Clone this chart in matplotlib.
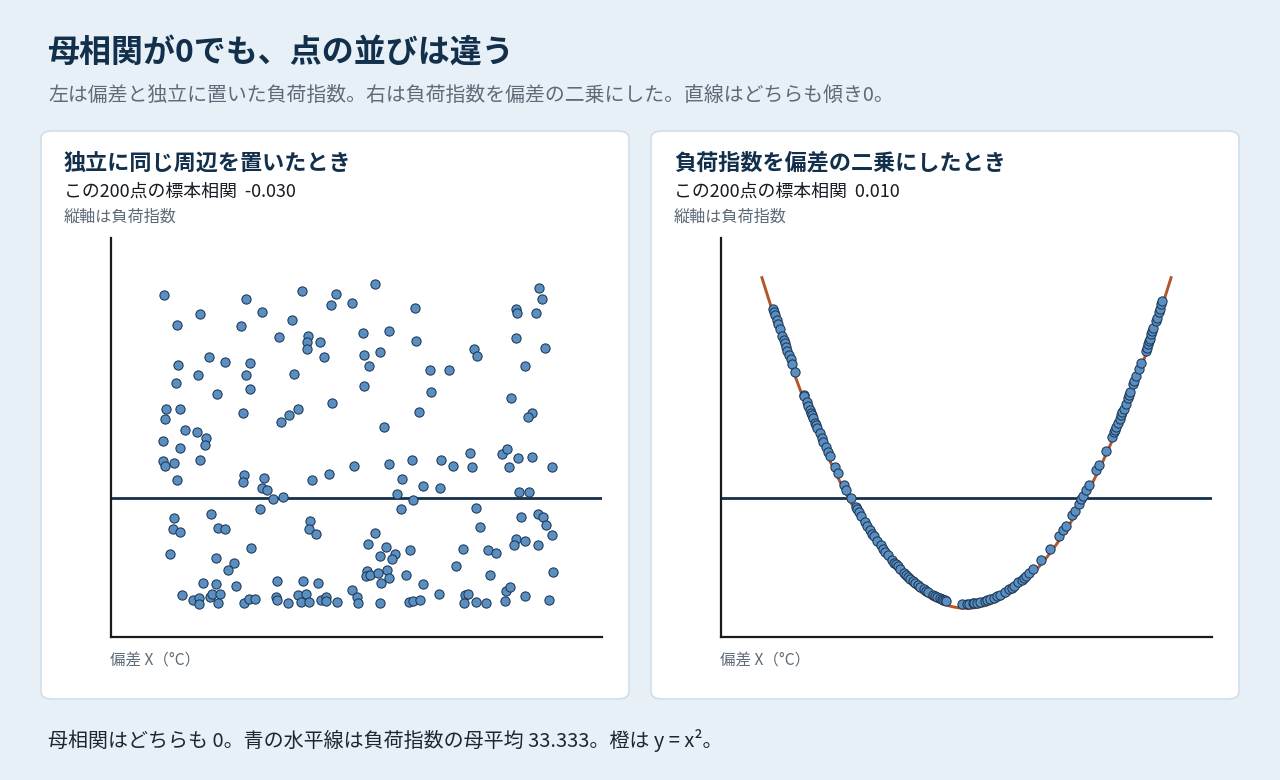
import matplotlib
matplotlib.use("Agg")
import matplotlib.pyplot as plt
from matplotlib.patches import FancyBboxPatch
from matplotlib import transforms

plt.rcParams['font.family'] = ['Noto Sans CJK JP', 'DejaVu Sans']

W, H = 1280, 780

# left panel: load index placed independently of the deviation
left_x = [-9.40, -5.41, -2.68, -1.02, -1.27, -0.24, -7.65, -4.63, -8.77, -5.65,
          -3.17, -3.80, -2.39, -2.44, -2.44, -1.80, -1.57, -7.21, -6.43, -5.21,
          -8.72, -7.74, -5.41, -3.07, -8.82, -5.21, -6.82, -1.22, -9.30, -8.65,
          -9.35, -5.55, -2.87, -3.31, -3.70, -8.38, -7.79, -7.36, -7.40, -9.45,
          -8.65, -9.45, -9.35, -8.91, -7.65, -0.10,
          0.88, 2.87, 8.91, 9.06, 7.79, 7.86, 8.77, 0.34, 1.61, 2.92,
          7.79, 9.21, 0.39, 1.17, 5.75, 5.89, 0.60, 3.60, 4.53, 8.23,
          0.39, 3.65, 7.55, 3.07, 8.57, 8.38, 1.32, 1.61, 2.73, 4.14,
          4.72, 5.55, 5.65, 7.11, 7.36, 7.89, 8.57, 7.45, 9.55,
          -5.50, -5.55, -4.53, -8.77, -2.19, -1.32, -4.63, -4.38, -4.09, -3.60,
          -4.72, -7.11, -8.91, -8.96, -8.65, -6.77, -6.43, -2.29, -2.34, -2.00,
          -9.11, -5.16, -6.87, -5.99, -6.28, -7.50, -6.87, -5.89, -3.90, -2.63,
          -1.90, -8.52, -7.99, -7.70, -7.70, -7.16, -7.06, -6.67, -6.77, -5.50,
          -5.26, -4.97, -3.95, -3.90, -3.36, -2.87, -2.48, -2.73, -2.34, -1.75,
          -1.51, -1.51, -0.93, -0.24, 0.00, 0.05,
          2.24, 3.26, 4.09, 2.00, 2.78, 2.19, 7.94, 8.43, 5.85, 8.04,
          8.87, 9.11, 9.25, 9.55, 6.04, 0.88, 0.54, 1.46, 1.17, 1.90,
          1.75, 2.63, 5.21, 6.43, 6.82, 7.79, 7.70, 8.23, 8.87, 4.87,
          0.49, 0.44, 0.68, 1.07, 1.51, 1.61, 1.22, 2.44, 3.26, 6.53,
          9.60, 1.17, 2.58, 2.78, 3.12, 4.04, 5.31, 5.46, 5.26, 5.85,
          6.33, 7.26, 7.31, 7.50, 8.23, 9.40]
left_y = [94.7, 93.5, 95.9, 95.0, 91.7, 92.3, 88.9, 89.5, 85.6, 85.3,
          87.1, 82.0, 82.4, 80.5, 78.3, 80.5, 75.9, 75.9, 74.5, 74.1,
          73.5, 70.5, 70.5, 70.8, 68.1, 66.3, 64.7, 62.0, 60.2, 60.2,
          57.2, 59.0, 60.3, 58.4, 56.3, 53.8, 53.2, 51.5, 49.3, 50.5,
          48.4, 44.6, 43.0, 43.9, 44.8, 43.0,
          98.0, 90.7, 96.8, 93.5, 90.5, 89.4, 89.2, 83.2, 83.8, 80.8,
          81.7, 78.6, 76.5, 77.4, 78.3, 76.2, 73.2, 72.0, 72.0, 73.2,
          67.2, 65.3, 63.5, 59.3, 59.0, 57.8, 54.7, 43.6, 44.8, 44.8,
          43.0, 47.0, 42.6, 46.7, 48.1, 45.4, 45.7, 42.6, 42.6,
          40.2, 38.1, 39.3, 38.7, 38.7, 40.5, 36.3, 35.7, 33.0, 33.6,
          29.9, 28.4, 27.2, 23.9, 23.0, 24.2, 23.9, 26.3, 23.9, 22.4,
          16.3, 18.1, 15.1, 13.6, 11.5, 7.6, 7.3, 6.7, 8.2, 8.2,
          7.6, 3.9, 2.4, 3.0, 1.2, 3.3, 4.2, 4.2, 1.5, 1.5,
          2.7, 2.7, 3.5, 2.4, 1.5, 3.9, 4.2, 1.8, 1.8, 2.4,
          3.3, 2.1, 1.8, 5.4, 3.3, 1.5,
          39.0, 37.0, 36.3, 34.5, 32.7, 29.9, 35.1, 35.1, 30.2, 27.5,
          28.4, 27.5, 25.1, 22.1, 24.5, 22.7, 19.4, 18.5, 15.7, 16.3,
          14.8, 17.5, 17.8, 17.5, 16.6, 20.9, 19.1, 20.3, 19.1, 12.7,
          11.2, 9.7, 10.0, 10.6, 11.5, 9.1, 7.6, 10.0, 7.3, 10.0,
          10.9, 1.5, 1.8, 2.1, 2.4, 4.2, 3.9, 4.2, 1.5, 1.8,
          1.5, 2.1, 5.1, 6.4, 3.6, 2.4]

# right panel: load index = deviation squared
right_x = [-9.45, -9.40, -9.35, -9.27, -9.20, -9.11, -9.00, -8.94, -8.88, -8.82,
           -8.75, -8.67, -8.60, -8.52, -8.38, -7.95, -7.92, -7.82, -7.74, -7.66,
           -7.60, -7.55, -7.50, -7.40, -7.35, -7.29, -7.18, -7.08, -7.00, -6.88,
           -6.77, -6.69, -6.43, -6.28, -5.99, -5.87, -5.66,
           -5.42, -5.35, -5.26, -5.14, -4.98, -4.85, -4.72, -4.60, -4.53, -4.36,
           -4.20, -4.07, -3.96, -3.84, -3.63, -3.52, -3.45, -3.36, -3.23, -3.07,
           -2.94, -2.85, -2.74, -2.61, -2.50, -2.39, -2.26, -2.10, -1.97, -1.86,
           -1.64, -1.55, -1.45, -1.29, -1.20, -1.13, -1.05, -0.99,
           -0.22, 0.02, 0.10, 0.34, 0.39, 0.50, 0.67, 0.91, 1.00, 1.15,
           1.36, 1.50, 1.64, 1.88, 2.10, 2.20, 2.34, 2.54, 2.70, 2.80,
           2.90, 3.06, 3.24, 3.62, 4.08, 4.52, 4.73, 4.86, 5.17, 5.30,
           5.49, 5.62, 5.70,
           5.86, 5.99, 6.35, 6.48, 6.80, 7.11, 7.20, 7.24, 7.32, 7.40,
           7.48, 7.55, 7.61, 7.68, 7.78, 7.89, 7.95, 8.01, 8.16, 8.21,
           8.30, 8.42, 8.54, 8.75, 8.80, 8.86, 8.91, 8.95, 9.03, 9.08,
           9.14, 9.24, 9.30, 9.39, 9.45, 9.52, 9.57]
right_y = [x * x for x in right_x]  # y is defined as x squared

curve_x = [i / 10 for i in range(-100, 101)]
curve_y = [x * x for x in curve_x]

pop_mean = 33.333
corr_left = "-0.030"
corr_right = "0.010"

BG = "#e8f0f7"
NAVY = "#12304c"
GRAY = "#5d6b78"
DOT = "#5b8fc0"
DOT_EDGE = "#1b3757"
ORANGE = "#b0582a"


def fx(px):
    return px / W


def fy(py):
    return 1 - py / H


fig = plt.figure(figsize=(12.8, 7.8), dpi=100, facecolor=BG)

fig.text(fx(47), fy(53), "母相関が0でも、点の並びは違う", fontsize=23,
         fontweight="bold", color=NAVY, va="center")
fig.text(fx(48), fy(95), "左は偏差と独立に置いた負荷指数。右は負荷指数を偏差の二乗にした。直線はどちらも傾き0。",
         fontsize=14.3, color=GRAY, va="center")
fig.text(fx(48), fy(741), "母相関はどちらも 0。青の水平線は負荷指数の母平均 33.333。橙は y = x²。",
         fontsize=14.4, color="#1c2630", va="center")


def panel(x0, title, corr, xs, ys, curve=False):
    card = FancyBboxPatch((fx(x0 + 41), fy(699)), fx(588), 568 / H,
                          boxstyle="round,pad=0,rounding_size=0.009",
                          transform=fig.transFigure, facecolor="white",
                          edgecolor="#d3e0ec", linewidth=1.3, zorder=-5)
    fig.patches.append(card)
    fig.text(fx(x0 + 64), fy(163), title, fontsize=15.9, fontweight="bold",
             color=NAVY, va="center")
    fig.text(fx(x0 + 64), fy(192), "この200点の標本相関  " + corr, fontsize=12.9,
             color="#161d24", va="center")
    fig.text(fx(x0 + 64), fy(217), "縦軸は負荷指数", fontsize=11.6, color=GRAY,
             va="center")
    fig.text(fx(x0 + 110), fy(661), "偏差 X（°C）", fontsize=11.2, color=GRAY,
             va="center")

    ax = fig.add_axes([fx(x0 + 111), fy(636.7), fx(491), 398.4 / H], zorder=2)
    ax.set_xlim(-12, 12)
    ax.set_ylim(-8.6, 111.9)
    ax.set_facecolor("white")
    for side in ["top", "right"]:
        ax.spines[side].set_visible(False)
    for side in ["left", "bottom"]:
        ax.spines[side].set_color("#1a1a1a")
        ax.spines[side].set_linewidth(1.6)
    ax.set_xticks([])
    ax.set_yticks([])

    ax.axhline(pop_mean, color="#15304a", linewidth=2.0, zorder=2)
    trans = ax.transData
    if curve:
        ax.plot(curve_x, curve_y, color=ORANGE, linewidth=2.1, zorder=2)
        trans = transforms.offset_copy(ax.transData, fig=fig, x=0, y=4.5, units="dots")
    ax.scatter(xs, ys, s=44, color=DOT, edgecolors=DOT_EDGE, linewidths=0.75,
               zorder=3, transform=trans, clip_on=False)
    return ax


panel(0, "独立に同じ周辺を置いたとき", corr_left, left_x, left_y)
panel(610, "負荷指数を偏差の二乗にしたとき", corr_right, right_x, right_y, curve=True)

fig.savefig("out.png", dpi=100, facecolor=BG)
